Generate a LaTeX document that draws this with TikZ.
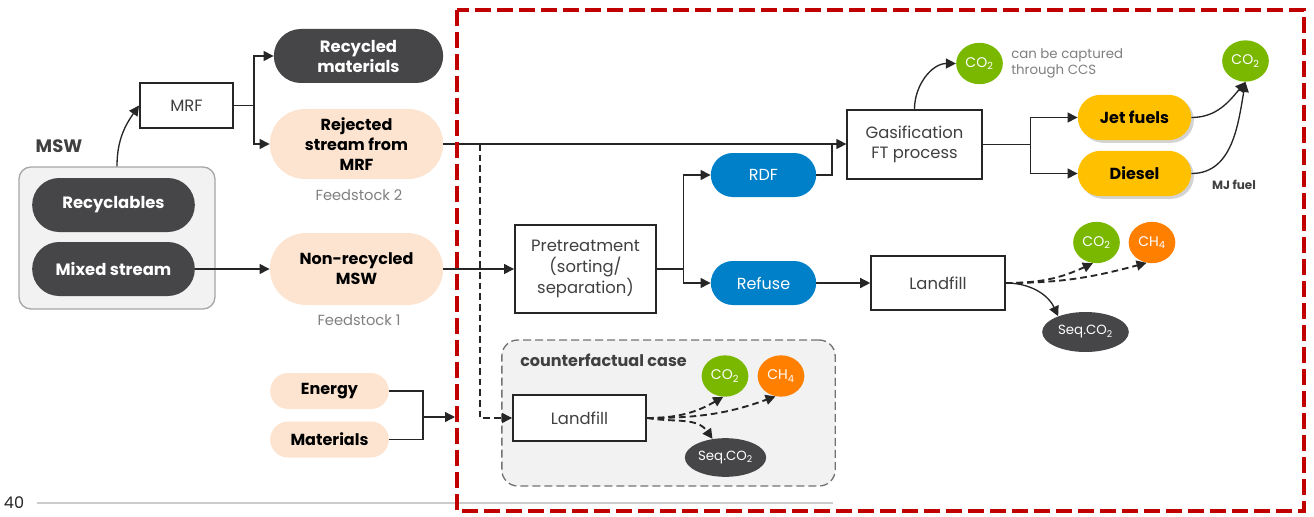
\documentclass[tikz,border=0pt]{standalone}
\usepackage{fontspec}
\setmainfont{Poppins}
\usetikzlibrary{arrows.meta,shapes.misc,shapes.geometric,shadows}
\definecolor{darkpill}{RGB}{70,70,73}
\definecolor{peach}{RGB}{252,228,208}
\definecolor{bluepill}{RGB}{0,128,200}
\definecolor{greenc}{RGB}{122,184,0}
\definecolor{orangec}{RGB}{255,127,0}
\definecolor{yellowpill}{RGB}{255,192,0}
\definecolor{lightbg}{RGB}{242,242,242}
\definecolor{linec}{RGB}{38,38,38}
\definecolor{txtgray}{RGB}{64,64,64}
\definecolor{midgray}{RGB}{127,127,127}
\definecolor{redline}{RGB}{192,0,0}
\tikzset{
  pill/.style={rounded rectangle, inner sep=0pt, align=center},
  darkp/.style={pill, fill=darkpill, text=white, font=\fontsize{12.3pt}{15pt}\selectfont\bfseries},
  peachp/.style={pill, fill=peach, text=black, font=\fontsize{12pt}{15pt}\selectfont\bfseries},
  bluep/.style={pill, fill=bluepill, text=white, font=\fontsize{12pt}{14pt}\selectfont},
  yellowp/.style={pill, fill=yellowpill, text=black, font=\fontsize{12pt}{15pt}\selectfont\bfseries,
     drop shadow={opacity=0.35, shadow xshift=2pt, shadow yshift=-2pt}},
  procbox/.style={draw=linec, line width=1.2pt, fill=white, align=center, inner sep=0pt,
     text=txtgray, font=\fontsize{12.3pt}{15.5pt}\selectfont},
  gas/.style={ellipse, inner sep=0pt, text=white, font=\fontsize{10.5pt}{12pt}\selectfont},
  co2c/.style={gas, fill=greenc, minimum width=35pt, minimum height=31pt},
  ch4c/.style={gas, fill=orangec, minimum width=35pt, minimum height=31pt},
  seqc/.style={gas, fill=darkpill, font=\fontsize{10pt}{12pt}\selectfont},
  lbl/.style={inner sep=0pt, text=midgray, font=\fontsize{11pt}{13pt}\selectfont},
  conn/.style={draw=linec, line width=1pt},
  arr/.style={conn, -{Triangle[length=7.5pt,width=7.5pt]}},
  darr/.style={arr, dash pattern=on 5pt off 3pt},
  bdarr/.style={darr, line width=1.4pt},
}
\begin{document}
\begin{tikzpicture}[x=0.75pt,y=-0.75pt]
\useasboundingbox (0,0) rectangle (1314,517);

% bottom rule and page number
\coordinate (rl) at (37,503);
\coordinate (rr) at (833,503);
\draw[black!20, line width=0.8pt] (rl) -- (rr);
\node[font=\fontsize{12pt}{14pt}\selectfont, text=black!85, inner sep=0pt] (pg) at (14,503) {40};

% MSW group
\node[draw=black!35, line width=1pt, fill=lightbg, rounded corners=9pt,
      minimum width=147pt, minimum height=106.5pt] (msw) at (117,238) {};
\node[darkp, minimum width=122pt, minimum height=40.5pt] (recy) at (113.5,205) {Recyclables};
\node[darkp, minimum width=122pt, minimum height=40.5pt] (mixed) at (113.5,269) {Mixed stream};
\node[inner sep=0pt, text=txtgray, font=\fontsize{13.5pt}{15pt}\selectfont\bfseries] (mswl) at (59,146) {MSW};

% MRF and outputs
\node[procbox, minimum width=70pt, minimum height=34pt] (mrf) at (186.5,105.5) {MRF};
\node[darkp, minimum width=127pt, minimum height=40.5pt] (recm) at (358.5,56) {Recycled\\materials};
\node[peachp, minimum width=130pt, minimum height=52.5pt] (rej) at (356.5,144) {Rejected\\stream from\\MRF};
\node[lbl] (fs2) at (359,195) {Feedstock 2};
\node[peachp, minimum width=130pt, minimum height=54pt] (nonrec) at (356.5,269) {Non-recycled\\MSW};
\node[lbl] (fs1) at (359,320) {Feedstock 1};

% energy / materials
\node[peachp, minimum width=89pt, minimum height=27pt] (energy) at (329.5,391) {Energy};
\node[peachp, minimum width=89pt, minimum height=27pt] (mater) at (329.5,439.5) {Materials};

% main process
\node[procbox, minimum width=106pt, minimum height=66pt] (pre) at (585.5,269) {Pretreatment\\(sorting/\\separation)};
\node[bluep, minimum width=79pt, minimum height=33pt] (rdf) at (763.5,175) {RDF};
\node[bluep, minimum width=79pt, minimum height=33pt] (refuse) at (763.5,283) {Refuse};
\node[procbox, minimum width=101pt, minimum height=52pt] (gasif) at (914.5,144.5) {Gasification\\FT process};
\node[procbox, minimum width=100.5pt, minimum height=40.5pt] (landfill) at (938,283) {Landfill};
\node[yellowp, minimum width=85pt, minimum height=34pt] (jet) at (1134.5,117.5) {Jet fuels};
\node[yellowp, minimum width=85pt, minimum height=34pt] (diesel) at (1134.5,173.5) {Diesel};

% gases (main)
\node[co2c] (co2ccs) at (979.5,63.5) {CO\textsubscript{2}};
\node[lbl, anchor=west, align=left, font=\fontsize{10pt}{12pt}\selectfont] (ccs) at (1011,63) {can be captured\\through CCS};
\node[co2c] (co2fuel) at (1245.5,61) {CO\textsubscript{2}};
\node[inner sep=0pt, text=txtgray, font=\fontsize{9pt}{10pt}\selectfont\bfseries] (mj) at (1234,185) {MJ fuel};
\node[co2c] (co2lf) at (1096.5,242.5) {CO\textsubscript{2}};
\node[ch4c] (ch4lf) at (1152,242.5) {CH\textsubscript{4}};
\node[seqc, minimum width=65pt, minimum height=30pt] (seqlf) at (1085.5,332) {Seq.CO\textsubscript{2}};

% counterfactual case
\node[draw=black!55, dash pattern=on 6pt off 3pt, line width=1pt, fill=lightbg, rounded corners=12pt,
      minimum width=250pt, minimum height=109.5pt] (cf) at (668.5,413) {};
\node[inner sep=0pt, anchor=west, text=txtgray, font=\fontsize{12pt}{14pt}\selectfont\bfseries] (cfl) at (520,360) {counterfactual case};
\node[procbox, minimum width=100pt, minimum height=34.5pt] (lfcf) at (579.5,418) {Landfill};
\node[co2c] (co2cf) at (725,376) {CO\textsubscript{2}};
\node[ch4c] (ch4cf) at (781,376) {CH\textsubscript{4}};
\node[seqc, minimum width=61pt, minimum height=29pt] (seqcf) at (725.5,457.5) {Seq.CO\textsubscript{2}};

% junction coordinates
\coordinate (dj) at (480,144);
\coordinate (gj) at (832,144);
\coordinate (em) at (423,417);
\coordinate (ee) at (455,417);

% connectors
\draw[arr] (msw.north) to[out=90,in=-125] (mrf.west);
\draw[arr] (mrf.east) -- ++(15pt,0) |- (recm.west);
\draw[arr] (mrf.east) -- ++(15pt,0) |- (rej.west);
\draw[arr] (mixed.east) -- (mixed.east -| nonrec.west);
\draw[arr] (rej.east) -- (rej.east -| gasif.west);
\draw[darr] (dj) |- (lfcf.west);
\draw[arr] (nonrec.east) -- (nonrec.east -| pre.west);
\draw[arr] (pre.east) -- ++(20pt,0) |- (rdf.west);
\draw[arr] (pre.east) -- ++(20pt,0) |- (refuse.west);
\draw[conn] (rdf.east) -| (gj);
\draw[arr] (refuse.east) -- (refuse.east -| landfill.west);
\draw[bdarr] (landfill.east) to[out=0,in=-155] (co2lf.-100);
\draw[bdarr] (landfill.east) to[out=0,in=-165] (ch4lf.-105);
\draw[arr] (landfill.east) to[out=0,in=115] (seqlf.150);
\draw[arr] (gasif.north) to[out=90,in=180] (co2ccs.west);
\draw[arr] (gasif.east) -- ++(36pt,0) |- (jet.west);
\draw[arr] (gasif.east) -- ++(36pt,0) |- (diesel.west);
\draw[arr] (jet.east) to[out=0,in=-130] (co2fuel.south);
\draw[arr] (diesel.east) to[out=0,in=-100] (co2fuel.south);
\draw[bdarr] (lfcf.east) to[out=0,in=-150] (co2cf.-95);
\draw[bdarr] (lfcf.east) to[out=0,in=-160] (ch4cf.-105);
\draw[bdarr] (lfcf.east) to[out=-10,in=125] (seqcf.125);
\draw[conn] (energy.east) -| (em);
\draw[conn] (mater.east) -| (em);
\draw[arr] (em) -- (ee);

% red boundary
\draw[redline, line width=3pt, dash pattern=on 12pt off 4.5pt] (457,10) rectangle (1304,511);
\end{tikzpicture}
\end{document}
